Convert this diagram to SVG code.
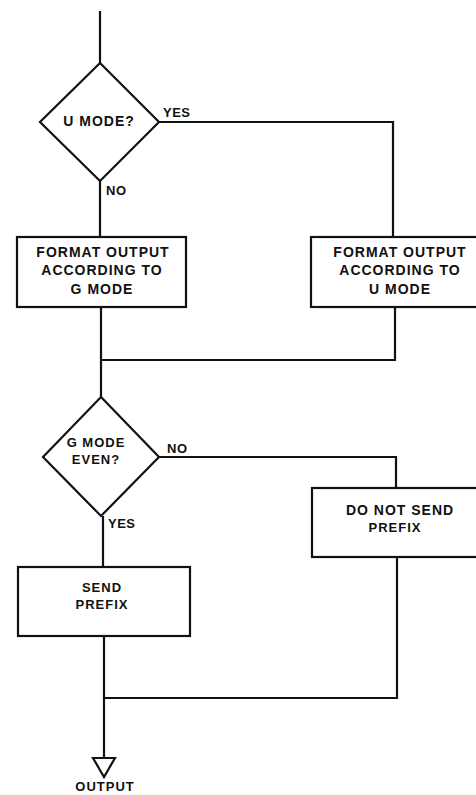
<svg xmlns="http://www.w3.org/2000/svg" width="476" height="795" viewBox="0 0 476 795">
<style>
.s{fill:none;stroke:#111;stroke-width:2.2}
.b{fill:#fff;stroke:#111;stroke-width:2.2}
text{font-family:"Liberation Sans",Arial,sans-serif;font-weight:bold;fill:#111;text-anchor:middle}
.t{font-size:14px;letter-spacing:1px}
.m{font-size:13px;letter-spacing:1px}
.l{font-size:13px;letter-spacing:0.5px;text-anchor:start}
</style>
<rect width="476" height="795" fill="#fff"/>
<g id="connectors" class="s">
<path d="M100 11V63"/>
<path d="M158 122H393V237"/>
<path d="M100 181V237"/>
<path d="M101 307V397"/>
<path d="M395 307V360H101"/>
<path d="M159 457H396V488"/>
<path d="M103 516V567"/>
<path d="M104 636V758"/>
<path d="M397 557V698H104"/>
</g>
<g id="labels">
<text class="l" x="163" y="117">YES</text>
<text class="l" x="106" y="195">NO</text>
<text class="l" x="167" y="453">NO</text>
<text class="l" x="108" y="528">YES</text>
</g>
<g id="d1">
<polygon class="b" points="100,63 159,122 100,181 40,122"/>
<text class="t" x="99" y="126">U MODE?</text>
</g>
<g id="box1">
<rect class="b" x="17" y="237" width="169" height="70"/>
<text class="t" x="103" y="257">FORMAT OUTPUT</text>
<text class="t" x="102" y="275">ACCORDING TO</text>
<text class="t" x="102" y="294">G MODE</text>
</g>
<g id="box2">
<rect class="b" x="311" y="237" width="180" height="70"/>
<text class="t" x="400" y="257">FORMAT OUTPUT</text>
<text class="t" x="400" y="275">ACCORDING TO</text>
<text class="t" x="400" y="294">U MODE</text>
</g>
<g id="d2">
<polygon class="b" points="101,397 159,457 101,516 43,457"/>
<text class="m" x="96" y="447">G MODE</text>
<text class="m" x="96" y="464">EVEN?</text>
</g>
<g id="box3">
<rect class="b" x="312" y="488" width="180" height="69"/>
<text class="t" x="400" y="515">DO NOT SEND</text>
<text class="m" x="395" y="532">PREFIX</text>
</g>
<g id="box4">
<rect class="b" x="18" y="567" width="172" height="69"/>
<text class="m" x="102" y="592">SEND</text>
<text class="m" x="102" y="609">PREFIX</text>
</g>
<g id="output">
<polygon class="b" points="93,758 115,758 104,777"/>
<text class="m" x="105" y="791">OUTPUT</text>
</g>
</svg>
